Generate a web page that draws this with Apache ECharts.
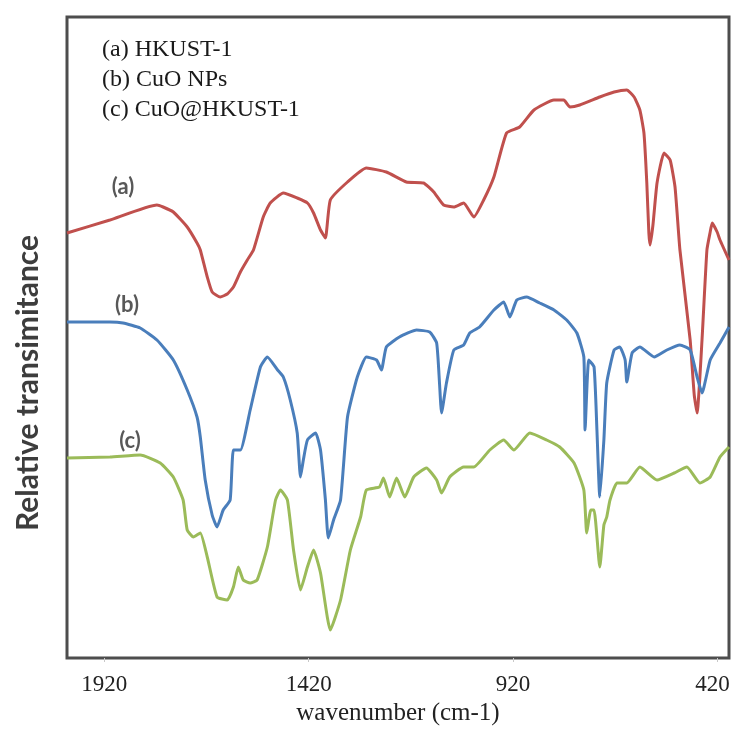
<!DOCTYPE html>
<html lang="en">
<head>
    <meta charset="UTF-8"/>
    <script src="https://cdn.jsdelivr.net/npm/echarts@6/dist/echarts.min.js"></script>
    <title>FTIR spectra</title>
    <style>
        html, body{
            margin: 0;
            padding: 0;
            background: #fff;
        }
        #chart{
            width: 732px;
            height: 749px;
        }
    </style>
</head>
<body>
<div id="chart"></div>
<script type="text/javascript">
    // series names
    var seriesNames = ['(a) HKUST-1', '(b) CuO NPs', '(c) CuO@HKUST-1'];
    var tickLabels = [1920, 1420, 920, 420];

    // [wavenumber (cm-1), relative transmittance (a.u.)]
    var hkust = [
        [2011, 425], [1906, 438], [1791, 453], [1776, 451], [1751, 446], [1717, 431],
        [1693, 415], [1685, 408], [1668, 381], [1656, 366], [1636, 361], [1619, 364],
        [1604, 371], [1587, 386], [1570, 398], [1555, 408], [1531, 441], [1514, 455],
        [1482, 465], [1448, 460], [1423, 455], [1408, 445], [1391, 428], [1379, 420],
        [1367, 458], [1325, 476], [1279, 490], [1230, 486], [1181, 476], [1139, 475],
        [1114, 466], [1090, 453], [1065, 451], [1041, 455], [1016, 441], [992, 458],
        [967, 481], [936, 525], [904, 531], [869, 548], [820, 558], [796, 558],
        [781, 551], [757, 553], [708, 561], [673, 566], [642, 568], [624, 561],
        [610, 548], [600, 525], [593, 475], [588, 425], [585, 413], [578, 433],
        [568, 475], [551, 505], [536, 498], [524, 471], [512, 408], [487, 318],
        [477, 263], [470, 245], [458, 318], [446, 408], [438, 426], [433, 435],
        [421, 426], [414, 418], [392, 398]
    ];
    var cuoNps = [
        [2011, 336], [1906, 336], [1874, 335], [1832, 330], [1791, 318], [1751, 298],
        [1717, 268], [1693, 241], [1685, 221], [1673, 178], [1656, 143], [1644, 131],
        [1629, 148], [1612, 158], [1604, 208], [1587, 208], [1563, 248], [1538, 291],
        [1521, 301], [1496, 288], [1482, 281], [1465, 258], [1448, 225], [1440, 181],
        [1433, 198], [1423, 218], [1403, 225], [1391, 208], [1379, 158], [1372, 120],
        [1359, 138], [1342, 158], [1325, 241], [1301, 281], [1279, 301], [1254, 298],
        [1242, 288], [1230, 311], [1198, 321], [1156, 328], [1124, 326], [1107, 315],
        [1100, 275], [1095, 245], [1083, 275], [1065, 308], [1041, 313], [1026, 325],
        [1002, 331], [967, 348], [943, 356], [928, 341], [911, 358], [887, 361],
        [855, 355], [820, 348], [789, 338], [764, 325], [747, 301], [744, 228],
        [735, 298], [722, 291], [715, 228], [708, 161], [698, 218], [691, 275],
        [673, 308], [659, 311], [646, 298], [642, 276], [629, 305], [610, 311],
        [575, 301], [544, 308], [512, 313], [487, 308], [470, 281], [458, 265],
        [438, 298], [414, 315], [392, 331]
    ];
    var cuoHkust = [
        [2011, 200], [1906, 201], [1832, 203], [1783, 195], [1751, 181], [1727, 158],
        [1717, 128], [1702, 121], [1685, 125], [1668, 101], [1644, 61], [1619, 58],
        [1604, 71], [1592, 91], [1580, 78], [1563, 75], [1546, 78], [1521, 111],
        [1501, 158], [1489, 168], [1472, 158], [1457, 108], [1440, 68], [1423, 91],
        [1408, 108], [1391, 85], [1367, 28], [1342, 58], [1318, 108], [1293, 141],
        [1279, 168], [1247, 171], [1237, 180], [1222, 161], [1205, 180], [1185, 161],
        [1163, 181], [1132, 190], [1107, 178], [1095, 165], [1075, 181], [1041, 191],
        [1016, 191], [977, 208], [943, 218], [918, 208], [879, 225], [838, 218],
        [806, 211], [771, 195], [747, 168], [740, 125], [730, 148], [722, 148],
        [708, 91], [698, 133], [691, 141], [683, 158], [666, 175], [642, 175],
        [610, 191], [568, 178], [526, 185], [495, 191], [463, 175], [438, 181],
        [414, 201], [392, 211]
    ];
    var colors = ['#c0504d', '#4a7ebb', '#9bbb59'];

    var myChart = echarts.init(document.getElementById('chart'));

    function lineSeries(name, data, color) {
        return {
            name: name,
            type: 'line',
            data: data,
            symbol: 'none',
            smooth: 0.15,
            lineStyle: {color: color, width: 3},
            itemStyle: {color: color},
            emphasis: {disabled: true}
        };
    }

    function curveTag(text, x, y) {
        return {
            type: 'text', x: x, y: y,
            style: {text: text, fontFamily: 'Lato', fontWeight: 'bold', fontSize: 22, fill: '#585858',
                align: 'center', verticalAlign: 'middle'}
        };
    }

    var option = {
        backgroundColor: '#fff',
        animation: false,
        grid: {
            left: 67,
            top: 17,
            width: 662,
            height: 641,
            outerBoundsMode: 'none',
            containLabel: false,
            show: true,
            borderColor: '#4d4d4d',
            borderWidth: 3,
            backgroundColor: '#fff'
        },
        legend: {
            orient: 'vertical',
            left: 92,
            top: 33,
            icon: 'none',
            itemWidth: 0,
            itemHeight: 10,
            itemGap: 6,
            selectedMode: false,
            data: seriesNames,
            textStyle: {
                fontFamily: 'Liberation Serif',
                fontSize: 24,
                color: '#1a1a1a'
            }
        },
        xAxis: {
            type: 'value',
            inverse: true,
            min: 392,
            max: 2011,
            splitLine: {show: false},
            axisLine: {show: false},
            axisTick: {
                show: true,
                customValues: tickLabels,
                length: 4,
                lineStyle: {color: '#c8c8c8'}
            },
            axisLabel: {
                customValues: tickLabels,
                // the last label sits flush with the right border in the figure
                formatter: function (v) {
                    return v === 420 ? '{r|' + v + '}' : String(v);
                },
                margin: 15,
                fontFamily: 'Liberation Serif',
                fontSize: 23,
                color: '#222',
                rich: {
                    r: {
                        fontFamily: 'Liberation Serif',
                        fontSize: 23,
                        color: '#222',
                        padding: [0, 10, 0, 0]
                    }
                }
            },
            name: 'wavenumber (cm-1)',
            nameLocation: 'middle',
            nameGap: 37,
            nameTextStyle: {
                fontFamily: 'Liberation Serif',
                fontSize: 25,
                color: '#222'
            }
        },
        yAxis: {
            type: 'value',
            min: 0,
            max: 641,
            axisLine: {show: false},
            axisTick: {show: false},
            axisLabel: {show: false},
            splitLine: {show: false}
        },
        graphic: [
            {
                type: 'text',
                x: 28,
                y: 383,
                rotation: Math.PI / 2,
                style: {
                    text: 'Relative transimitance',
                    fontFamily: 'Lato',
                    fontWeight: 'bold',
                    fontSize: 30,
                    fill: '#3d3d3d',
                    align: 'center',
                    verticalAlign: 'middle'
                }
            },
            curveTag('(a)', 123, 187),
            curveTag('(b)', 127, 305),
            curveTag('(c)', 130, 441)
        ],
        series: [
            lineSeries(seriesNames[0], hkust, colors[0]),
            lineSeries(seriesNames[1], cuoNps, colors[1]),
            lineSeries(seriesNames[2], cuoHkust, colors[2])
        ]
    };
    myChart.setOption(option);
</script>
</body>
</html>
